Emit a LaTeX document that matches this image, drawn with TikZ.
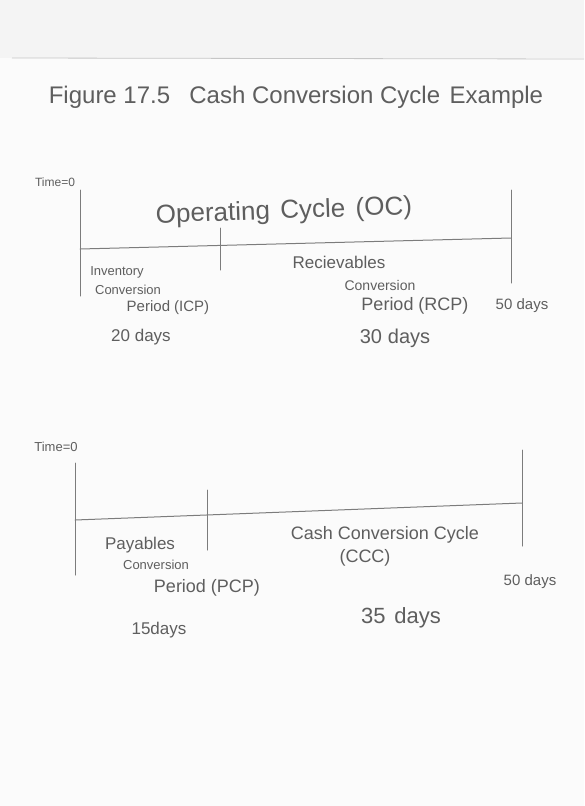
\documentclass[tikz,border=0pt]{standalone}
\usepackage{fontspec}
\setmainfont{Liberation Sans}
\definecolor{pencil}{HTML}{5E5E5E}
\definecolor{pencilline}{HTML}{7C7C7C}
\definecolor{paper}{HTML}{FBFBFB}
\definecolor{strip}{HTML}{F4F4F4}
\begin{document}
\begin{tikzpicture}[x=1pt,y=-1pt,
  lbl/.style={text=pencil,inner sep=0pt,align=center},
  tl/.style={draw=pencilline,line width=1pt,line cap=round}]
\useasboundingbox (0,0) rectangle (584,806);
\fill[paper] (0,0) rectangle (584,806);
\fill[strip] (0,0) rectangle (584,58);
\draw[gray!45,line width=0.8pt] (12,58) -- (584,59);

% title
\node[lbl,font=\fontsize{24}{28}\selectfont] (title) at (296,97) {Figure 17.5\hspace{0.8em}Cash Conversion Cycle\hspace{0.4em}Example};

% ---------- top timeline ----------
\coordinate (a0t) at (80,190);
\coordinate (a0b) at (80,296);
\coordinate (a0m) at (80,249);
\coordinate (aMt) at (220,228);
\coordinate (aMb) at (220,270);
\coordinate (aEt) at (511,190);
\coordinate (aEb) at (511,283);
\coordinate (aEm) at (511,238);
\draw[tl] (a0t) -- (a0b);
\draw[tl] (aMt) -- (aMb);
\draw[tl] (aEt) -- (aEb);
\draw[tl] (a0m) -- (aEm);

\node[lbl,font=\fontsize{12}{14}\selectfont] (t0a) at (55,182) {Time=0};
\node[lbl,font=\fontsize{26}{30}\selectfont,rotate=2] (oc) at (284,212) {Operating\hspace{0.4em}Cycle\hspace{0.4em}(OC)};
\node[lbl,font=\fontsize{13}{15}\selectfont] (inv) at (117,272) {Inventory};
\node[lbl,font=\fontsize{13}{15}\selectfont] (conv1) at (128,290) {Conversion};
\node[lbl,font=\fontsize{15}{18}\selectfont] (icp) at (168,308) {Period (ICP)};
\node[lbl,font=\fontsize{17}{20}\selectfont] (d20) at (141,337) {20 days};
\node[lbl,font=\fontsize{17}{20}\selectfont] (rec) at (339,262) {Recievables};
\node[lbl,font=\fontsize{14}{16}\selectfont] (conv2) at (380,285) {Conversion};
\node[lbl,font=\fontsize{18}{21}\selectfont] (rcp) at (415,306) {Period (RCP)};
\node[lbl,font=\fontsize{15}{18}\selectfont] (d50a) at (522,306) {50 days};
\node[lbl,font=\fontsize{20}{24}\selectfont] (d30) at (395,338) {30\hspace{0.3em}days};

% ---------- bottom timeline ----------
\coordinate (b0t) at (75,463);
\coordinate (b0b) at (75,575);
\coordinate (b0m) at (75,520);
\coordinate (bMt) at (207,490);
\coordinate (bMb) at (207,550);
\coordinate (bEt) at (522,450);
\coordinate (bEb) at (522,546);
\coordinate (bEm) at (522,503);
\draw[tl] (b0t) -- (b0b);
\draw[tl] (bMt) -- (bMb);
\draw[tl] (bEt) -- (bEb);
\draw[tl] (b0m) -- (bEm);

\node[lbl,font=\fontsize{13}{15}\selectfont] (t0b) at (56,447) {Time=0};
\node[lbl,font=\fontsize{17}{20}\selectfont] (pay) at (140,545) {Payables};
\node[lbl,font=\fontsize{13}{15}\selectfont] (conv3) at (156,565) {Conversion};
\node[lbl,font=\fontsize{18}{21}\selectfont] (pcp) at (207,588) {Period (PCP)};
\node[lbl,font=\fontsize{17}{20}\selectfont] (d15) at (159,630) {15days};
\node[lbl,font=\fontsize{18}{21}\selectfont] (ccc) at (385,535) {Cash Conversion Cycle};
\node[lbl,font=\fontsize{18}{21}\selectfont] (ccc2) at (365,558) {(CCC)};
\node[lbl,font=\fontsize{15}{18}\selectfont] (d50b) at (530,582) {50 days};
\node[lbl,font=\fontsize{22}{26}\selectfont] (d35) at (401,618) {35\hspace{0.4em}days};
\end{tikzpicture}
\end{document}
